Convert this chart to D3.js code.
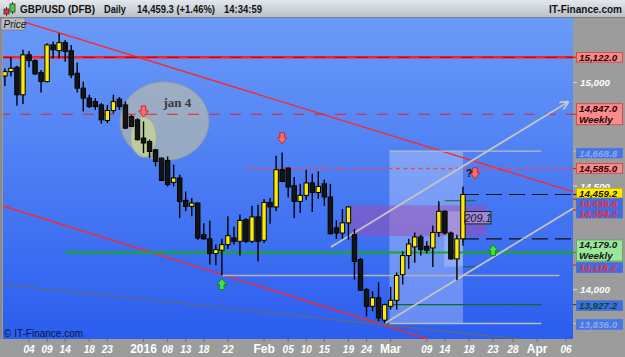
<!DOCTYPE html>
<html><head><meta charset="utf-8">
<script src="https://cdn.jsdelivr.net/npm/d3@7"></script>
<style>
html,body{margin:0;padding:0;background:#9c9c9c;overflow:hidden;}
svg{display:block;font-family:"Liberation Sans",Arial,sans-serif;}
</style></head><body>
<svg id="c" width="625" height="357"></svg>
<script>
// ---------- DATA ----------
const dates = ["2015-11-30","2015-12-01","2015-12-02","2015-12-03","2015-12-04","2015-12-07","2015-12-08","2015-12-09","2015-12-10","2015-12-11",
"2015-12-14","2015-12-15","2015-12-16","2015-12-17","2015-12-18","2015-12-21","2015-12-22","2015-12-23","2015-12-24","2015-12-28",
"2015-12-29","2015-12-30","2015-12-31","2016-01-04","2016-01-05","2016-01-06","2016-01-07","2016-01-08","2016-01-11","2016-01-12",
"2016-01-13","2016-01-14","2016-01-15","2016-01-18","2016-01-19","2016-01-20","2016-01-21","2016-01-22","2016-01-25","2016-01-26",
"2016-01-27","2016-01-28","2016-01-29","2016-02-01","2016-02-02","2016-02-03","2016-02-04","2016-02-05","2016-02-08","2016-02-09",
"2016-02-10","2016-02-11","2016-02-12","2016-02-15","2016-02-16","2016-02-17","2016-02-18","2016-02-19","2016-02-22","2016-02-23",
"2016-02-24","2016-02-25","2016-02-26","2016-02-29","2016-03-01","2016-03-02","2016-03-03","2016-03-04","2016-03-07","2016-03-08",
"2016-03-09","2016-03-10","2016-03-11","2016-03-14","2016-03-15","2016-03-16","2016-03-17"];
const open  = [15032,15053,15074,14941,15134,15106,15048,15005,15182,15154,15193,15154,15045,14973,14925,14908,14892,14817,14865,14920,
14892,14836,14820,14732,14715,14675,14635,14624,14518,14539,14431,14402,14418,14265,14245,14174,14190,14217,14249,14233,
14338,14233,14351,14238,14421,14399,14579,14587,14502,14426,14455,14515,14469,14511,14447,14298,14273,14322,14265,14145,
14000,13919,13960,13852,13919,13948,14072,14164,14206,14254,14209,14201,14276,14378,14273,14148,14245];
const high  = [15069,15123,15081,15158,15153,15113,15061,15190,15198,15238,15206,15182,15096,15005,14941,14925,14901,14892,14941,14930,
14908,14844,14828,14812,14724,14679,14638,14643,14603,14555,14474,14442,14421,14320,14334,14217,14245,14354,14305,14362,
14346,14405,14410,14438,14442,14646,14662,14590,14544,14511,14579,14560,14571,14531,14511,14334,14389,14404,14293,14153,
14008,13992,14035,13932,14013,14083,14185,14245,14276,14265,14233,14309,14426,14383,14281,14265,14498];
const low   = [14984,15029,14888,14897,15074,15037,14952,15000,15118,15118,15101,15021,14952,14860,14877,14868,14801,14804,14852,14868,
14775,14785,14720,14659,14635,14595,14524,14498,14498,14346,14378,14354,14241,14241,14121,14117,14068,14196,14217,14165,
14225,14225,14136,14225,14318,14378,14518,14445,14346,14370,14431,14375,14438,14405,14265,14245,14245,14241,14048,13995,
13871,13895,13847,13836,13903,13903,14024,14100,14129,14164,14174,14109,14254,14265,14145,14045,14212];
const close = [15053,15069,14941,15134,15106,15042,15005,15182,15158,15193,15150,15037,14973,14925,14884,14884,14820,14865,14908,14884,
14780,14788,14724,14708,14667,14619,14527,14507,14539,14426,14402,14418,14249,14245,14174,14193,14217,14260,14233,14334,
14233,14351,14233,14421,14399,14579,14522,14495,14426,14455,14515,14469,14498,14447,14270,14273,14322,14399,14136,13997,
13919,13960,13863,13927,13948,14068,14164,14220,14254,14193,14190,14276,14378,14273,14148,14245,14459.2];

// x-axis ticks (bar index, label)
const tickIndex  = [4,7,10,14,17,23,27,30,33,37,43,47,50,53,57,60,64,70,73,77,81,84.3,88.3,93.1];
const tickLabels = ["04","09","14","18","23","2016","08","13","18","22","Feb","05","10","15","19","24","Mar","09","14","18","23","28","Apr","06"];
const majorTicks = ["2016","Feb","Mar","Apr"];

// right-axis price labels
const axisPrices = [15122,15000,14847,14668.8,14585,14500,14436.8,14384.2,14459.2,14179,14118.2,14000,13927.2,13836];
const axisTexts  = [["15,122.0"],["15,000"],["14,847.0","Weekly"],["14,668.8"],["14,585.0"],["14,500"],["14,436.8"],["14,384.2"],
                    ["14,459.2"],["14,179.0","Weekly"],["14,118.2"],["14,000"],["13,927.2"],["13,836.0"]];
const axisKinds  = ["red","plain","red","fade","red","plain","bluered","bluered","yellow","green","bluered","plain","bluegreen","fade"];

// horizontal levels: price, from bar, to bar, style
const levelPrices = [15122,14847,14585,14179,14068,14668.8,13836,13927.2,14459.2,14245,14429,14110];
const levelFrom   = [-1,-1,40,10,36,63.8,63.8,63.8,76,76,73,76];
const levelTo     = [96,96,96,96,92,89,89,89,96,96,78.1,78.1];
const levelKinds  = ["redSolid","redDash","redDot","green","silver","silverThin","silverThin","darkGreen","blackDash","blackDash","dg","dg"];

// trend lines (bar, price) anchor pairs
const trendA = [[7.48,15254],[15.78,14257],[-0.32,14024]];
const trendB = [[92.1,14492],[63.07,13826],[84.3,13764]];
const trendKinds = ["red","red","gray"];
// rising channel (silver)
const chanA = [[54.1,14206],[63,13836]];
const chanB = [[93.3,14904],[94.3,14393]];

// rectangles: bars and prices
const boxFrom = [63.8,57.3,72.9];
const boxTo   = [76,79.9,76];
const boxHi   = [14668.8,14407,14378];
const boxLo   = [13836,14258,14111];
const boxKinds = ["light","purple","lighter"];

// arrow signals: bar, tip price
const downIdx = [23,46,78];   const downTip = [14834,14704,14535];
const upIdx   = [36,81];      const upTip   = [14053,14217];

// ---------- SETUP ----------
const W=625,H=357;
const P={l:3,r:573,t:18,b:339};
const x=d3.scaleLinear().domain([-0.315,94.26]).range([P.l,P.r]);
const y=d3.scaleLinear().domain([13761,15312]).range([P.b,P.t]);

const svg=d3.select("#c");
const defs=svg.append("defs");
const g1=defs.append("linearGradient").attr("id","bg").attr("x1",0).attr("y1",0).attr("x2",0).attr("y2",1);
g1.append("stop").attr("offset","0%").attr("stop-color","#6a9bf8");
g1.append("stop").attr("offset","100%").attr("stop-color","#2b5def");
const g2=defs.append("linearGradient").attr("id","hd").attr("x1",0).attr("y1",0).attr("x2",0).attr("y2",1);
g2.append("stop").attr("offset","0%").attr("stop-color","#e4e8ec");
g2.append("stop").attr("offset","100%").attr("stop-color","#b6bec6");
defs.append("clipPath").attr("id","clip").append("rect").attr("x",P.l).attr("y",P.t).attr("width",P.r-P.l).attr("height",P.b-P.t);
defs.append("marker").attr("id","arr").attr("viewBox","0 0 10 10").attr("refX",8).attr("refY",5)
  .attr("markerWidth",5).attr("markerHeight",5).attr("orient","auto")
  .append("path").attr("d","M0,0L10,5L0,10").attr("fill","none").attr("stroke","#c8c8c8").attr("stroke-width",2);

svg.append("rect").attr("width",W).attr("height",H).attr("fill","#9c9c9c");
svg.append("rect").attr("x",P.l).attr("y",P.t).attr("width",P.r-P.l).attr("height",P.b-P.t).attr("fill","url(#bg)");
svg.append("line").attr("x1",1).attr("x2",1).attr("y1",P.t).attr("y2",P.b).attr("stroke","#8a8a8a").attr("stroke-width",2);

const plot=svg.append("g").attr("clip-path","url(#clip)");

// boxes
const boxStyle={light:{f:"#ffffff",o:0.28},purple:{f:"#a04cb0",o:0.5},lighter:{f:"#ffffff",o:0.22}};
boxFrom.forEach((f,i)=>{
  const s=boxStyle[boxKinds[i]];
  plot.append("rect").attr("x",x(f)).attr("width",x(boxTo[i])-x(f))
    .attr("y",y(boxHi[i])).attr("height",y(boxLo[i])-y(boxHi[i]))
    .attr("fill",s.f).attr("fill-opacity",s.o);
});

// ellipses (jan 4 annotation)
plot.append("ellipse").attr("cx",x(26.48)).attr("cy",y(14813)).attr("rx",44.5).attr("ry",39.5)
  .attr("fill","#c4c2a4").attr("fill-opacity",0.62).attr("stroke","#8c9c9c").attr("stroke-width",1);
plot.append("ellipse").attr("cx",x(23)).attr("cy",y(14736)).attr("rx",12.5).attr("ry",20)
  .attr("fill","#e4f07c").attr("fill-opacity",0.5).attr("stroke","#a8b878").attr("stroke-width",0.6);
plot.append("text").attr("x",x(26.3)).attr("y",y(14883)).attr("font-family","'Liberation Serif','DejaVu Serif',serif")
  .attr("font-weight","bold").attr("font-size",13).attr("fill","#3a3a3a").text("jan 4");

// trend lines
const dom=x.domain();
function extend(a,b){const s=(b[1]-a[1])/(b[0]-a[0]);return [[dom[0],a[1]+s*(dom[0]-a[0])],[dom[1],a[1]+s*(dom[1]-a[0])]];}
const trendStyle={red:{c:"#ff2626",w:1.3},gray:{c:"#646876",w:1.2}};
trendA.forEach((a,i)=>{
  const e=extend(a,trendB[i]);const s=trendStyle[trendKinds[i]];
  plot.append("line").attr("x1",x(e[0][0])).attr("y1",y(e[0][1])).attr("x2",x(e[1][0])).attr("y2",y(e[1][1]))
    .attr("stroke",s.c).attr("stroke-width",s.w);
});

// levels
const lvStyle={
  redSolid:{c:"#ff2020",w:2.6},
  redDash:{c:"#e82020",w:1.2,d:"11,10"},
  redDot:{c:"#f04848",w:1.5,d:"4,3.5"},
  green:{c:"#10b010",w:2},
  silver:{c:"#b4b4b8",w:1.5},
  silverThin:{c:"#b8bcc4",w:1.3},
  darkGreen:{c:"#0c6e1c",w:1.3},
  blackDash:{c:"#111111",w:1.2,d:"16,7"},
  dg:{c:"#0c6e1c",w:1}
};
levelPrices.forEach((p,i)=>{
  const s=lvStyle[levelKinds[i]];
  const l=plot.append("line").attr("x1",x(levelFrom[i])).attr("x2",x(levelTo[i])).attr("y1",y(p)).attr("y2",y(p))
    .attr("stroke",s.c).attr("stroke-width",s.w);
  if(s.d) l.attr("stroke-dasharray",s.d);
  if(levelKinds[i]==="redSolid"){
    plot.append("line").attr("x1",x(levelFrom[i])).attr("x2",x(levelTo[i])).attr("y1",y(p)).attr("y2",y(p))
      .attr("stroke","#c00000").attr("stroke-width",1).attr("stroke-dasharray","12,9");
  }
});

// channel
chanA.forEach((a,i)=>{
  const b=chanB[i];
  const l=plot.append("line").attr("x1",x(a[0])).attr("y1",y(a[1])).attr("x2",x(b[0])).attr("y2",y(b[1]))
    .attr("stroke","#c4c4c4").attr("stroke-width",1.8);
  if(i===0) l.attr("marker-end","url(#arr)");
});

// candles
const cg=plot.append("g");
dates.forEach((d,i)=>{
  const cx=x(i);
  cg.append("line").attr("x1",cx).attr("x2",cx).attr("y1",y(high[i])).attr("y2",y(low[i]))
    .attr("stroke","#000").attr("stroke-width",1.4);
  const up=close[i]>=open[i];
  const top=y(Math.max(open[i],close[i])), bot=y(Math.min(open[i],close[i]));
  cg.append("rect").attr("x",cx-2.2).attr("width",4.4).attr("y",top).attr("height",Math.max(1.2,bot-top))
    .attr("fill",up?"#ffea00":"#141414").attr("stroke","#000").attr("stroke-width",1);
});

// 209.1 label
const lb=plot.append("g");
lb.append("rect").attr("x",x(76)+2).attr("y",y(14347)-6.2).attr("width",26).attr("height",12.4)
  .attr("fill","#c8a8d8").attr("fill-opacity",0.55).attr("stroke","#202020").attr("stroke-width",1);
lb.append("text").attr("x",x(76)+15).attr("y",y(14347)+4).attr("text-anchor","middle")
  .attr("font-size",11).attr("font-style","italic").attr("fill","#111").text("209.1");

// arrows
function arrow(cx,tipY,dir,fill,stroke){
  const s=dir; // 1 = down, -1 = up
  const pts=[[0,0],[-4.8,-6*s],[-2.3,-6*s],[-2.3,-11*s],[2.3,-11*s],[2.3,-6*s],[4.8,-6*s]];
  plot.append("path").attr("d","M"+pts.map(p=>(cx+p[0])+","+(tipY+p[1])).join("L")+"Z")
    .attr("fill",fill).attr("stroke",stroke).attr("stroke-width",1);
}
downIdx.forEach((b,i)=>arrow(x(b),y(downTip[i]),1,"#ff6a6a","#c42a2a"));
upIdx.forEach((b,i)=>arrow(x(b),y(upTip[i]),-1,"#48e048","#0a8a1a"));
plot.append("text").attr("x",x(77.05)).attr("y",y(14535)-2).attr("font-size",10.5).attr("font-weight","bold")
  .attr("fill","#111").attr("text-anchor","middle").text("?");

// copyright
svg.append("text").attr("x",4).attr("y",337).attr("font-size",10).attr("fill","#0a1434").text("© IT-Finance.com");

// ---------- right axis ----------
const ra=svg.append("g");
defs.append("clipPath").attr("id","clip500").append("rect").attr("x",573).attr("y",0).attr("width",60).attr("height",y(14459.2)-6.6);
const kindStyle={
  red:{f:"#f88c8c",s:"#d04040",t:"#2a0000",tick:"#e02020"},
  plain:{f:null,t:"#ffffff",tick:"#d0d0d0"},
  fade:{f:"#4677e6",s:"#4677e6",t:"#8eaae8",tick:"#b8bcc4"},
  bluered:{f:"#3e6de4",s:"#3e6de4",t:"#ff2a2a",tick:"#e02020"},
  yellow:{f:"#ffee00",s:"#c0a000",t:"#111111",tick:"#222222"},
  green:{f:"#9ce69c",s:"#5aa85a",t:"#102010",tick:"#10b010"},
  bluegreen:{f:"#3e6de4",s:"#3e6de4",t:"#0a4a14",tick:"#0c6e1c"}
};
// small layout nudges (px) so stacked labels sit like the reference
const nudge={"14,668.8":2,"14,500":0,"14,459.2":-1.5,"14,436.8":4,"14,384.2":3.1,"14,179.0":-2,"14,118.2":2.5,"13,927.2":1,"13,836.0":1};
axisPrices.forEach((p,i)=>{
  const s=kindStyle[axisKinds[i]];
  const lines=axisTexts[i];
  const py=y(p);
  const cy=py+(nudge[lines[0]]||0);
  ra.append("line").attr("x1",P.r).attr("x2",P.r+4).attr("y1",py).attr("y2",py).attr("stroke",s.tick).attr("stroke-width",1.2);
  const h=lines.length===1?9.6:21;
  const top=cy-h/2;
  const grp=ra.append("g");
  if(lines[0]==="14,500") grp.attr("clip-path","url(#clip500)");
  if(s.f) grp.append("rect").attr("x",576.5).attr("y",top).attr("width",46).attr("height",h)
      .attr("fill",s.f).attr("stroke",s.s).attr("stroke-width",0.8);
  lines.forEach((t,k)=>{
    grp.append("text").attr("x",s.f?579:580).attr("y",top+8.4+k*10.6).attr("font-size",9.8).attr("font-weight","bold")
      .attr("font-style","italic").attr("fill",s.t).text(t);
  });
});

// ---------- bottom axis ----------
const ba=svg.append("g");
tickIndex.forEach((ti,i)=>{
  const tx=x(ti);
  ba.append("line").attr("x1",tx).attr("x2",tx).attr("y1",P.b).attr("y2",P.b+3).attr("stroke","#6e6e6e").attr("stroke-width",1);
  const major=majorTicks.includes(tickLabels[i]);
  ba.append("text").attr("x",tx).attr("y",353).attr("text-anchor","middle")
    .attr("font-size",major?12:10).attr("font-weight","bold").attr("font-style",major?"normal":"italic")
    .attr("fill","#ffffff").text(tickLabels[i]);
});

// ---------- header ----------
svg.append("rect").attr("x",0).attr("y",0).attr("width",W).attr("height",P.t).attr("fill","url(#hd)");
svg.append("line").attr("x1",0).attr("x2",W).attr("y1",P.t-0.5).attr("y2",P.t-0.5).attr("stroke","#7c8088");
// icon
svg.append("line").attr("x1",6.5).attr("x2",6.5).attr("y1",7).attr("y2",16).attr("stroke","#333");
svg.append("rect").attr("x",4).attr("y",9).attr("width",5).attr("height",5).attr("fill","#e83030").attr("stroke","#333").attr("stroke-width",0.8);
svg.append("line").attr("x1",12.5).attr("x2",12.5).attr("y1",2).attr("y2",14).attr("stroke","#333");
svg.append("rect").attr("x",10).attr("y",4).attr("width",5).attr("height",8).attr("fill","#40d040").attr("stroke","#333").attr("stroke-width",0.8);
const hdr=[["GBP/USD (DFB)",20,75],["Daily",104,22],["14,459.3 (+1.46%)",137,78],["14:34:59",224,38]];
hdr.forEach(h=>svg.append("text").attr("x",h[1]).attr("y",13).attr("font-size",10.5).attr("font-weight","bold")
  .attr("fill","#111").attr("textLength",h[2]).attr("lengthAdjust","spacingAndGlyphs").text(h[0]));
svg.append("text").attr("x",549).attr("y",13).attr("font-size",10.5).attr("font-weight","bold").attr("fill","#111")
  .attr("textLength",73).attr("lengthAdjust","spacingAndGlyphs").text("IT-Finance.com");
// Price tag
svg.append("rect").attr("x",1).attr("y",P.t).attr("width",24).attr("height",12).attr("fill","#b8bcc2").attr("stroke","#7a7e84").attr("stroke-width",0.8);
svg.append("text").attr("x",3.5).attr("y",P.t+9.5).attr("font-size",10).attr("font-style","italic").attr("fill","#111").text("Price");
</script>
</body></html>
